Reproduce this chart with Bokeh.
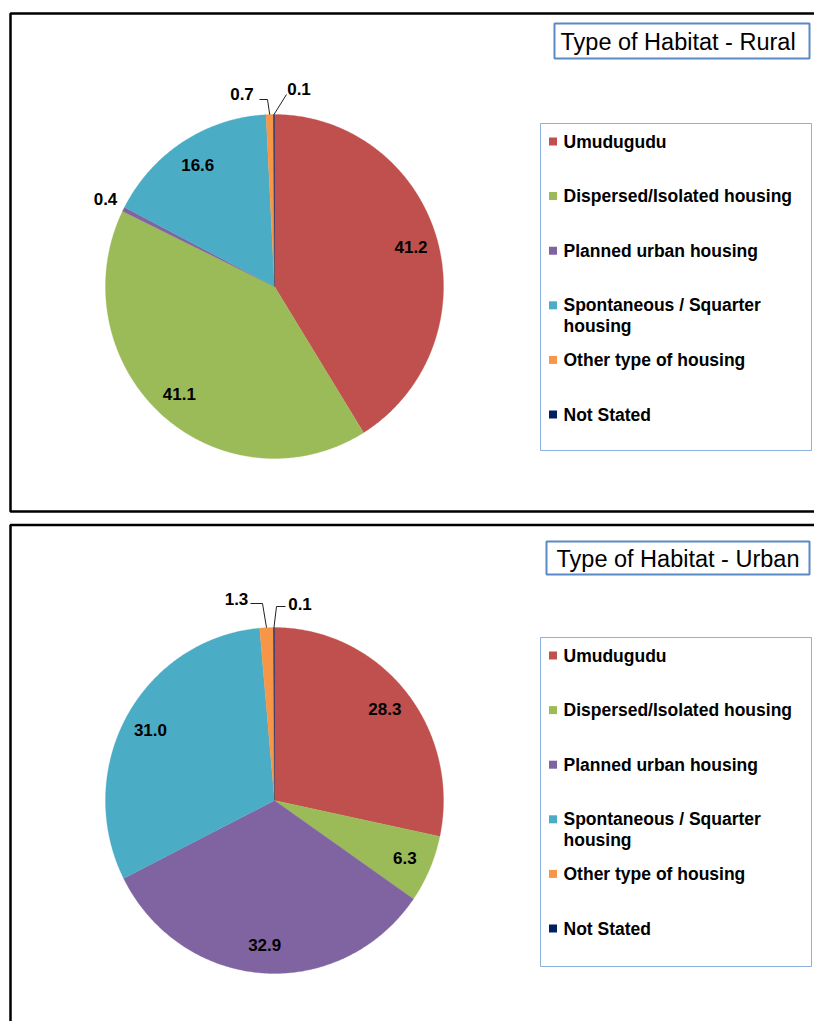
import math
from bokeh.plotting import figure
from bokeh.models import Range1d
from bokeh.core.properties import value
from bokeh.embed import file_html
from bokeh.resources import INLINE

# ---------------- data ----------------
categories = [
    "Umudugudu",
    "Dispersed/Isolated housing",
    "Planned urban housing",
    "Spontaneous / Squarter\nhousing",
    "Other type of housing",
    "Not Stated",
]
rural_values = [41.2, 41.1, 0.4, 16.6, 0.7, 0.1]
urban_values = [28.3, 6.3, 32.9, 31.0, 1.3, 0.1]
slice_colors = ["#C0504D", "#9BBB59", "#8064A2", "#4BACC6", "#F79646", "#002060"]
panel_titles = ["Type of Habitat - Rural", "Type of Habitat - Urban"]

# ---------------- layout ----------------
W, H = 814, 1021
FONT = value("Liberation Sans")

p = figure(width=W, height=H, x_range=Range1d(0, W), y_range=Range1d(H, 0),
           output_backend="svg", toolbar_location=None, min_border=0,
           x_axis_location=None, y_axis_location=None)
p.xgrid.visible = False
p.ygrid.visible = False
p.outline_line_color = None
p.background_fill_color = "white"
p.border_fill_color = "white"

# panel frames (right / bottom edges run off the crop)
p.multi_line(xs=[[830, 10, 10, 830], [830, 10, 10]],
             ys=[[13, 13, 511, 511], [524.5, 524.5, 1030]],
             line_color="black", line_width=2.5)


def ell(cx, cy, rx, ry, theta, f=1.0):
    t = math.radians(theta)
    return cx + f * rx * math.sin(t), cy - f * ry * math.cos(t)


panels = [
    dict(values=rural_values, title=panel_titles[0], cx=274, cy=286, rx=169, ry=172,
         title_box=(554, 809, 23, 58), title_y=41, title_x=560, legend_top=123, legend_bottom=450,
         legend_mid=141,
         outside={2: dict(pos=(105, 198), leader=None),
                  4: dict(pos=(241.5, 93.5), leader=[(259, 99), (267, 99)]),
                  5: dict(pos=(298.5, 88.5), leader=[(286, 94)])}),
    dict(values=urban_values, title=panel_titles[1], cx=274, cy=800, rx=169, ry=173,
         title_box=(546, 809, 541, 574), title_y=558, title_x=556, legend_top=637, legend_bottom=966,
         legend_mid=655,
         outside={4: dict(pos=(236, 598), leader=[(250, 603), (262, 603)]),
                  5: dict(pos=(299.5, 603.5), leader=[(285, 606), (276, 606)])}),
]

for pan in panels:
    vals = pan["values"]
    cx, cy, rx, ry = pan["cx"], pan["cy"], pan["rx"], pan["ry"]
    total = sum(vals)
    start = 0.0
    xs_list, ys_list, mids = [], [], []
    for v in vals:
        sweep = v / total * 360.0
        n = max(2, int(sweep * 2) + 1)
        xs, ys = [cx], [cy]
        for k in range(n + 1):
            x, y = ell(cx, cy, rx, ry, start + sweep * k / n)
            xs.append(x)
            ys.append(y)
        xs_list.append(xs)
        ys_list.append(ys)
        mids.append(start + sweep / 2)
        start += sweep
    p.patches(xs_list, ys_list, fill_color=slice_colors, line_color=slice_colors, line_width=0.3)

    # data labels
    lx, ly, lt = [], [], []
    lead_x, lead_y = [], []
    for i, v in enumerate(vals):
        if i in pan["outside"]:
            o = pan["outside"][i]
            x, y = o["pos"]
            if o["leader"]:
                ax, ay = ell(cx, cy, rx, ry, mids[i], 1.0)
                pts = o["leader"] + [(ax, ay)]
                lead_x.append([q[0] for q in pts])
                lead_y.append([q[1] for q in pts])
        else:
            x, y = ell(cx, cy, rx, ry, mids[i], 0.84)
        lx.append(x)
        ly.append(y)
        lt.append(f"{v:.1f}")
    if lead_x:
        p.multi_line(xs=lead_x, ys=lead_y, line_color="#222222", line_width=1)
    p.text(x=lx, y=ly, text=lt, text_font=FONT, text_font_style="bold",
           text_font_size="17px", text_align="center", text_baseline="middle",
           text_color="black")

    # title box
    l, r, t, b = pan["title_box"]
    p.quad(left=[l], right=[r], top=[t], bottom=[b], fill_color="white",
           line_color="#5A8AC6", line_width=2)
    p.text(x=[pan["title_x"]], y=[pan["title_y"]], text=[pan["title"]],
           text_font=FONT, text_font_size="23.5px", text_align="left",
           text_baseline="middle", text_color="black")

    # legend box
    p.quad(left=[540], right=[811], top=[pan["legend_top"]], bottom=[pan["legend_bottom"]],
           fill_color="white", line_color="#8EB0DC", line_width=1)
    sx, sy, tx, ty, tt = [], [], [], [], []
    for i, name in enumerate(categories):
        mid = pan["legend_mid"] + 54.6 * i
        sx.append(552.5)
        sy.append(mid)
        for j, line in enumerate(name.split("\n")):
            tx.append(563)
            ty.append(mid + 20.5 * j)
            tt.append(line)
    p.rect(x=sx, y=sy, width=8, height=8, fill_color=slice_colors, line_color=None)
    p.text(x=tx, y=ty, text=tt, text_font=FONT, text_font_style="bold",
           text_font_size="17.5px", text_align="left", text_baseline="middle",
           text_color="black")

open("out.html", "w").write(file_html(p, INLINE))
